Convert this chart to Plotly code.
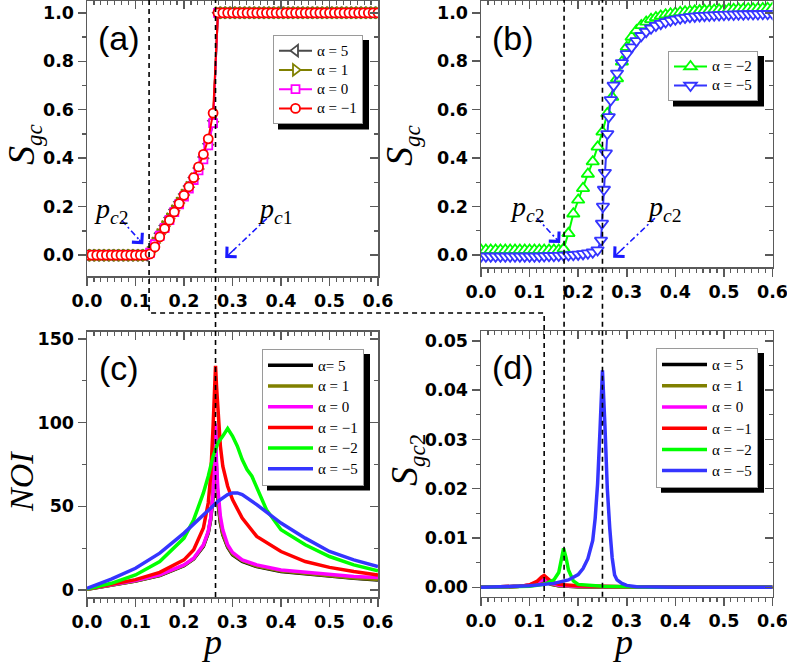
import plotly.graph_objects as go

W, H = 787, 663

# ---------------- data ----------------
p_grid = [0.00, 0.01, 0.02, 0.03, 0.04, 0.05, 0.06, 0.07, 0.08, 0.09,
          0.10, 0.11, 0.12, 0.13, 0.14, 0.15, 0.16, 0.17, 0.18, 0.19,
          0.20, 0.21, 0.22, 0.23, 0.24, 0.25, 0.26, 0.27, 0.28, 0.29,
          0.30, 0.31, 0.32, 0.33, 0.34, 0.35, 0.36, 0.37, 0.38, 0.39,
          0.40, 0.41, 0.42, 0.43, 0.44, 0.45, 0.46, 0.47, 0.48, 0.49,
          0.50, 0.51, 0.52, 0.53, 0.54, 0.55, 0.56, 0.57, 0.58, 0.59, 0.60]

# panel (a): S_gc, alpha = 5, 1, 0, -1
s_a_5 = [0.0] * 13 + [0.015, 0.055, 0.09, 0.122, 0.155, 0.188, 0.22, 0.252, 0.285, 0.32, 0.36, 0.405, 0.46, 0.555] + [1.0] * 34
s_a_1 = [0.0] * 13 + [0.012, 0.05, 0.085, 0.118, 0.15, 0.183, 0.215, 0.248, 0.28, 0.315, 0.355, 0.4, 0.456, 0.55] + [1.0] * 34
s_a_0 = [0.0] * 13 + [0.01, 0.045, 0.08, 0.112, 0.145, 0.178, 0.21, 0.242, 0.275, 0.31, 0.35, 0.395, 0.453, 0.545] + [1.0] * 34
s_a_m1 = [0.0] * 13 + [0.005, 0.034, 0.075, 0.11, 0.144, 0.178, 0.213, 0.247, 0.282, 0.32, 0.364, 0.416, 0.48, 0.586] + [1.0] * 34

# panel (b): S_gc, alpha = -2, -5
s_b_m2 = [0.02] * 17 + [0.025] + [0.089, 0.17, 0.227, 0.275, 0.334, 0.385, 0.446, 0.508, 0.584, 0.652,
                                  0.728, 0.797, 0.858, 0.90, 0.927, 0.948, 0.962, 0.973, 0.981, 0.987,
                                  0.992, 0.996, 0.999] + \
         [1.002, 1.004, 1.006, 1.008, 1.009, 1.010, 1.011, 1.012, 1.013, 1.014,
          1.015, 1.015, 1.016, 1.016, 1.017, 1.017, 1.018, 1.018, 1.019, 1.019]
p_b_m5 = p_grid[:25] + [0.247, 0.249, 0.251, 0.253, 0.255, 0.257, 0.26, 0.263, 0.267, 0.273, 0.28] + p_grid[29:]
s_b_m5 = [-0.006] * 13 + [-0.005, -0.004, -0.004, -0.003, -0.002, -0.001, 0.0, 0.002, 0.004, 0.007, 0.011, 0.02] + \
         [0.06, 0.13, 0.2, 0.27, 0.34, 0.42, 0.5, 0.57, 0.64, 0.70, 0.75] + \
         [0.793, 0.83, 0.858, 0.884, 0.905, 0.922, 0.936, 0.947, 0.955, 0.962,
          0.968, 0.973, 0.977, 0.98, 0.983, 0.985, 0.987, 0.988, 0.989, 0.99,
          0.991, 0.992, 0.993, 0.993, 0.994, 0.994, 0.995, 0.995, 0.995, 0.996, 0.996, 0.996]

# panel (c): NOI
p_c = [0, 0.05, 0.1, 0.15, 0.2, 0.22, 0.24, 0.25, 0.255, 0.26, 0.263, 0.265, 0.267, 0.27, 0.275,
       0.28, 0.29, 0.3, 0.32, 0.35, 0.4, 0.45, 0.5, 0.55, 0.6]
noi_5 = [0.4, 2.8, 5.3, 8.6, 14.5, 18.5, 26, 34, 42, 56, 76, 97, 70, 52, 40, 33, 25.5, 21, 17, 14, 11, 9.5, 8, 7, 6]
noi_1 = [0.4, 2.9, 5.4, 8.8, 14.7, 18.7, 26.5, 34.5, 42.5, 57, 77, 98, 71, 53, 41, 33.5, 26, 21.5, 17.5, 14.3, 11.3, 9.8, 8.3, 7.2, 6.3]
noi_0 = [0.5, 3, 5.6, 9, 15, 19, 27, 35, 43, 58, 78, 99.5, 76, 60, 44, 36, 27, 22.5, 18, 15, 12, 10.5, 9, 8, 7.5]
noi_m1 = [0.5, 3.2, 6.2, 10.5, 18, 24, 37, 52, 68, 98, 122, 134, 122, 105, 86, 74, 62, 54, 43, 32, 23, 17, 13.5, 11, 9]
p_c_m2 = [0, 0.05, 0.1, 0.15, 0.2, 0.22, 0.24, 0.25, 0.26, 0.27, 0.28, 0.29, 0.3, 0.31, 0.32, 0.33,
          0.34, 0.35, 0.37, 0.4, 0.45, 0.5, 0.55, 0.6]
noi_m2 = [0.5, 4, 9, 17, 31, 42, 58, 68, 80, 88, 92, 96.5, 92, 86, 78, 72, 68, 61, 48, 36, 27, 20, 15, 11.5]
p_c_m5 = [0, 0.05, 0.1, 0.15, 0.2, 0.25, 0.27, 0.29, 0.3, 0.31, 0.32, 0.35, 0.4, 0.45, 0.5, 0.55, 0.6]
noi_m5 = [1, 6.5, 13, 22, 34, 48, 53, 57, 58, 58, 57, 51, 40, 31, 23, 18, 14]

# panel (d): S_gc2
p_d_low = [0, 0.05, 0.08, 0.1, 0.115, 0.125, 0.13, 0.135, 0.145, 0.16, 0.2, 0.3, 0.6]
sg2_5 = [0, 0.0001, 0.0002, 0.0004, 0.0008, 0.0012, 0.0013, 0.001, 0.0006, 0.0003, 0.0001, 0, 0]
sg2_1 = [0, 0.0001, 0.0002, 0.0004, 0.0008, 0.0012, 0.0013, 0.001, 0.0006, 0.0003, 0.0001, 0, 0]
sg2_0 = [0, 0.0001, 0.0002, 0.0005, 0.001, 0.0015, 0.0016, 0.0013, 0.0008, 0.0004, 0.0002, 0.0001, 0]
sg2_m1 = [0, 0.0001, 0.0002, 0.0005, 0.0012, 0.0021, 0.0024, 0.002, 0.0011, 0.0006, 0.0003, 0.0001, 0]
p_d_m2 = [0, 0.05, 0.1, 0.13, 0.15, 0.16, 0.165, 0.17, 0.175, 0.18, 0.19, 0.2, 0.25, 0.3, 0.35, 0.6]
sg2_m2 = [0, 0.0001, 0.0002, 0.0006, 0.0015, 0.003, 0.0052, 0.0079, 0.006, 0.0035, 0.0013, 0.0006, 0.0002, 0.0001, 0, 0]
p_d_m5 = [0, 0.05, 0.1, 0.15, 0.18, 0.2, 0.21, 0.22, 0.23, 0.235, 0.24, 0.245, 0.25, 0.255, 0.26,
          0.265, 0.27, 0.275, 0.28, 0.29, 0.3, 0.32, 0.35, 0.4, 0.5, 0.6]
sg2_m5 = [0, 0.0001, 0.0003, 0.0008, 0.0015, 0.0026, 0.0038, 0.0058, 0.0095, 0.014, 0.021, 0.032, 0.044,
          0.033, 0.02, 0.012, 0.006, 0.0025, 0.0015, 0.0008, 0.0004, 0.0001, 0, 0, 0, 0]

# reference (critical) lines
p_line_a = 0.128      # p_c2 of panel (a), joins to panel (d)
p_line_d = 0.13
p_line_ac = 0.265     # p_c1 through (a) and (c)
p_lines_bd = [0.171, 0.25]

labels_a = ["α = 5", "α = 1", "α = 0", "α = −1"]
labels_b = ["α = −2", "α = −5"]
labels_c = ["α= 5", "α = 1", "α = 0", "α = −1", "α = −2", "α = −5"]
labels_d = ["α = 5", "α = 1", "α = 0", "α = −1", "α = −2", "α = −5"]

# ---------------- styles ----------------
C_DARK, C_BLACK, C_OLIVE, C_MAG, C_RED, C_GREEN, C_BLUE = "#4a4a4a", "#000000", "#808000", "#ff00ff", "#ff0000", "#00ff00", "#3535ff"
SANS = "Liberation Sans, Arial, sans-serif"
TICK_SANS = "DejaVu Sans, Liberation Sans, sans-serif"
SERIF = "Liberation Serif, Times New Roman, serif"
AX_COL = "#5a5a5a"
LEG_TXT = 15

XR = [0, 0.6]
YR_A = [-0.086, 1.05]
YR_B = [-0.05, 1.05]
YR_C = [-4.2, 154.4]
YR_D = [-0.0019, 0.052]

def px_x(px):
    return px / W

def px_y(py):
    return 1 - py / H

DOM_X_L = [px_x(87), px_x(378)]
DOM_X_R = [px_x(481), px_x(772.5)]
DOM_Y_A = [px_y(276), 0.999]
DOM_Y_B = [px_y(267), 0.999]
DOM_Y_C = [px_y(597), px_y(331.7)]
DOM_Y_D = [px_y(596.7), px_y(331)]

fig = go.Figure()

def leg_name(t):
    return f"<span style='font-size:{LEG_TXT}px'>{t}</span>"

def add_series(x, y, name, color, xa, ya, legend, symbol=None, msize=9, lw=2.0):
    if symbol is None:
        fig.add_trace(go.Scatter(x=x, y=y, name=leg_name(name), mode="lines",
                                 line=dict(color=color, width=lw),
                                 xaxis=xa, yaxis=ya, legend=legend, hoverinfo="skip"))
    else:
        fig.add_trace(go.Scatter(x=x, y=y, name=leg_name(name), mode="lines+markers",
                                 line=dict(color=color, width=lw),
                                 marker=dict(symbol=symbol, size=msize, color="white",
                                             line=dict(color=color, width=1.8)),
                                 xaxis=xa, yaxis=ya, legend=legend, hoverinfo="skip"))

# (a)
add_series(p_grid, s_a_5, labels_a[0], C_DARK, "x", "y", "legend", "triangle-left", 10)
add_series(p_grid, s_a_1, labels_a[1], C_OLIVE, "x", "y", "legend", "triangle-right", 10)
add_series(p_grid, s_a_0, labels_a[2], C_MAG, "x", "y", "legend", "square", 8)
add_series(p_grid, s_a_m1, labels_a[3], C_RED, "x", "y", "legend", "circle", 9)
# (b)
add_series(p_grid, s_b_m2, labels_b[0], C_GREEN, "x2", "y2", "legend2", "triangle-up", 11)
add_series(p_b_m5, s_b_m5, labels_b[1], C_BLUE, "x2", "y2", "legend2", "triangle-down", 11)
# (c)
add_series(p_c, noi_5, labels_c[0], C_BLACK, "x3", "y3", "legend3", lw=3.5)
add_series(p_c, noi_1, labels_c[1], C_OLIVE, "x3", "y3", "legend3", lw=3.5)
add_series(p_c, noi_0, labels_c[2], C_MAG, "x3", "y3", "legend3", lw=3.5)
add_series(p_c, noi_m1, labels_c[3], C_RED, "x3", "y3", "legend3", lw=3.5)
add_series(p_c_m2, noi_m2, labels_c[4], C_GREEN, "x3", "y3", "legend3", lw=3.5)
add_series(p_c_m5, noi_m5, labels_c[5], C_BLUE, "x3", "y3", "legend3", lw=3.5)
# (d)
add_series(p_d_low, sg2_5, labels_d[0], C_BLACK, "x4", "y4", "legend4", lw=3.5)
add_series(p_d_low, sg2_1, labels_d[1], C_OLIVE, "x4", "y4", "legend4", lw=3.5)
add_series(p_d_low, sg2_0, labels_d[2], C_MAG, "x4", "y4", "legend4", lw=3.5)
add_series(p_d_low, sg2_m1, labels_d[3], C_RED, "x4", "y4", "legend4", lw=3.5)
add_series(p_d_m2, sg2_m2, labels_d[4], C_GREEN, "x4", "y4", "legend4", lw=3.5)
add_series(p_d_m5, sg2_m5, labels_d[5], C_BLUE, "x4", "y4", "legend4", lw=3.5)

# dummy traces for mirrored (inside-tick) top/right axes
for k in range(5, 9):
    fig.add_trace(go.Scatter(x=[None], y=[None], xaxis=f"x{k}", yaxis=f"y{k}",
                             showlegend=False, hoverinfo="skip"))

tickfont = dict(family=TICK_SANS, size=17.5, color="black", weight="bold")

def xaxis(dom, anchor, show=True, side="bottom", overlay=None):
    d = dict(range=XR, domain=dom, anchor=anchor, side=side, automargin=False,
             showline=True, linecolor=AX_COL, linewidth=1.5,
             ticks="outside" if show else "inside", ticklen=8, tickwidth=1.5, tickcolor=AX_COL,
             dtick=0.1, tick0=0, tickformat=".1f", ticklabeloverflow="allow",
             minor=dict(dtick=0.1 / 7, ticks="outside" if show else "inside", ticklen=4,
                        tickwidth=1.2, tickcolor=AX_COL),
             showticklabels=show, tickfont=tickfont,
             showgrid=False, zeroline=False, fixedrange=True)
    if overlay:
        d["overlaying"] = overlay
        d.pop("domain")
    return d

def yaxis(dom, rng, dtick, mdt, fmt, anchor, show=True, side="left", overlay=None):
    d = dict(range=rng, domain=dom, anchor=anchor, side=side, automargin=False,
             showline=True, linecolor=AX_COL, linewidth=1.5,
             ticks="outside" if show else "inside", ticklen=8, tickwidth=1.5, tickcolor=AX_COL,
             dtick=dtick, tick0=0, tickformat=fmt, ticklabeloverflow="allow",
             minor=dict(dtick=mdt, ticks="outside" if show else "inside", ticklen=4,
                        tickwidth=1.2, tickcolor=AX_COL),
             showticklabels=show, tickfont=tickfont,
             showgrid=False, zeroline=False, fixedrange=True)
    if overlay:
        d["overlaying"] = overlay
        d.pop("domain")
    return d

panels = [
    ("", DOM_X_L, DOM_Y_A, YR_A, 0.2, 0.1, ".1f"),
    ("2", DOM_X_R, DOM_Y_B, YR_B, 0.2, 0.1, ".1f"),
    ("3", DOM_X_L, DOM_Y_C, YR_C, 50, 25, "d"),
    ("4", DOM_X_R, DOM_Y_D, YR_D, 0.01, 0.005, ".2f"),
]
layout_axes = {}
for i, (s, dx, dy, yr, dt, mdt, fmt) in enumerate(panels):
    k = i + 5
    layout_axes[f"xaxis{s}"] = xaxis(dx, "y" + s)
    layout_axes[f"yaxis{s}"] = yaxis(dy, yr, dt, mdt, fmt, "x" + s)
    layout_axes[f"xaxis{k}"] = xaxis(dx, f"y{k}", show=False, side="top", overlay="x" + s)
    layout_axes[f"yaxis{k}"] = yaxis(dy, yr, dt, mdt, fmt, f"x{k}", show=False, side="right", overlay="y" + s)

fig.update_layout(**layout_axes)

# ---------------- legends ----------------
# (id, left px, top px, base font size (sets row spacing), item width, number of rows)
legend_specs = [("legend", 273, 35, 12.5, 33, 4),
                ("legend2", 668, 51, 12.3, 33, 2),
                ("legend3", 262, 349, 13.6, 45, 6),
                ("legend4", 656, 348, 14.0, 45, 6)]
TEXT_W = 40  # approx. width of the longest label ("α = −1") at LEG_TXT px

shapes = []
for lid, l, t, fs, iw, n in legend_specs:
    fig.update_layout({lid: dict(x=px_x(l), y=px_y(t), xanchor="left", yanchor="top",
                                 bgcolor="white", bordercolor="#9a9a9a", borderwidth=1,
                                 font=dict(family=SERIF, size=fs, color="black"),
                                 itemwidth=iw, tracegroupgap=0)})
    lw_ = TEXT_W + iw + 17
    lh_ = n * (max(1.3 * fs, 16) + 3) + 12
    shapes.append(dict(type="rect", xref="paper", yref="paper", layer="above",
                       x0=px_x(l + 5), x1=px_x(l + lw_ + 6), y0=px_y(t + lh_ + 5.5), y1=px_y(t + 5),
                       fillcolor="black", line=dict(width=0)))

# ---------------- dashed critical lines ----------------
DASH = dict(color="black", width=1.6, dash="5px,4px")

def to_paper_x(p, dom):
    return dom[0] + (p - XR[0]) / (XR[1] - XR[0]) * (dom[1] - dom[0])

xa = to_paper_x(p_line_a, DOM_X_L)
xd = to_paper_x(p_line_d, DOM_X_R)
yj = px_y(313)
shapes.append(dict(type="path", xref="paper", yref="paper", layer="above",
                   path=f"M{xa},1 L{xa},{yj} L{xd},{yj} L{xd},{DOM_Y_D[0]}", line=DASH))
shapes.append(dict(type="line", xref="x", yref="paper", layer="above",
                   x0=p_line_ac, x1=p_line_ac, y0=DOM_Y_C[0], y1=1, line=DASH))
for pl in p_lines_bd:
    shapes.append(dict(type="line", xref="x2", yref="paper", layer="above",
                       x0=pl, x1=pl, y0=DOM_Y_D[0], y1=1, line=DASH))

# ---------------- arrows (dash-dot) ----------------
# (axis suffix, start p, start S, end p, end S)
arrows = [("", 0.0716, 0.144, 0.116, 0.045),
          ("", 0.371, 0.152, 0.285, -0.012),
          ("2", 0.115, 0.152, 0.163, 0.049),
          ("2", 0.358, 0.152, 0.272, -0.012)]
annotations = []
for s, x0, y0, x1, y1 in arrows:
    shapes.append(dict(type="line", xref="x" + s, yref="y" + s, x0=x0, y0=y0,
                       x1=x0 + 0.8 * (x1 - x0), y1=y0 + 0.8 * (y1 - y0),
                       line=dict(color="#1a1aff", width=1.6, dash="6px,3px,2px,3px")))
    annotations.append(dict(xref="x" + s, yref="y" + s, axref="x" + s, ayref="y" + s,
                            x=x1, y=y1, ax=x0 + 0.75 * (x1 - x0), ay=y0 + 0.75 * (y1 - y0),
                            text="", showarrow=True, arrowhead=4, arrowsize=1.8,
                            arrowwidth=1.5, arrowcolor="#1a1aff"))

pc_texts = [("", 0.0495, 0.185, "<i>p</i><sub><i>c</i>2</sub>"),
            ("", 0.388, 0.185, "<i>p</i><sub><i>c</i>1</sub>"),
            ("2", 0.0947, 0.193, "<i>p</i><sub><i>c</i>2</sub>"),
            ("2", 0.377, 0.193, "<i>p</i><sub><i>c</i>2</sub>")]
for s, x, y, t in pc_texts:
    annotations.append(dict(xref="x" + s, yref="y" + s, x=x, y=y, text=t, showarrow=False,
                            xanchor="center", yanchor="middle",
                            font=dict(family=SERIF, size=28, color="black")))

# ---------------- panel labels & axis titles ----------------
def paper_text(t, cx, cy, font, angle=0):
    return dict(xref="paper", yref="paper", x=px_x(cx), y=px_y(cy), text=t, textangle=angle,
                xanchor="center", yanchor="middle", showarrow=False, borderpad=0, font=font)

for t, (cx, cy) in zip(["(a)", "(b)", "(c)", "(d)"], [(119, 38), (513, 38), (119, 368), (513, 367)]):
    annotations.append(paper_text(t, cx, cy, dict(family=SANS, size=34, color="black")))

sgc = "<i>S</i><sub><span style='font-size:23px'><i>gc</i></span></sub>"
sgc2 = "<i>S</i><sub><span style='font-size:23px'><i>gc</i>2</span></sub>"
ytitles = [(sgc, 23, 145, 38), (sgc, 401, 145, 38), ("<i>NOI</i>", 21, 482, 34), (sgc2, 406, 460, 38)]
for t, cx, cy, fs in ytitles:
    annotations.append(paper_text(t, cx, cy, dict(family=SERIF, size=fs, color="black"), -90))
for cx, cy in [(212, 642), (622, 642)]:
    annotations.append(paper_text("<i>p</i>", cx, cy, dict(family=SERIF, size=36, color="black")))

fig.update_layout(width=W, height=H, margin=dict(l=0, r=0, t=0, b=0, autoexpand=False),
                  paper_bgcolor="white", plot_bgcolor="white",
                  shapes=shapes, annotations=annotations)

fig.write_html("out.html", config={"displayModeBar": False, "staticPlot": True},
               post_script="document.body.style.margin='0px';")
